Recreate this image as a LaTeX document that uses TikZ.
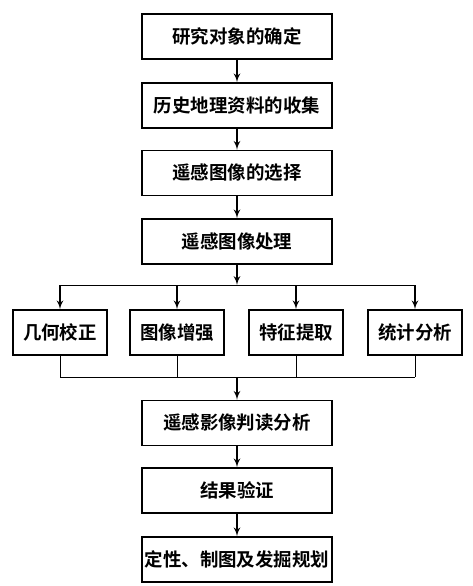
\documentclass[tikz,border=0pt]{standalone}
\usepackage{fontspec}
\newfontfamily\cjk{Noto Sans CJK SC Bold}
\usetikzlibrary{shapes.geometric, arrows, calc}

\begin{document}
\begin{tikzpicture}[x=0.02cm,y=-0.02cm,
    stagebox/.style={draw,line width=0.8pt,minimum width=3.8cm,minimum height=0.9cm,
      font=\cjk\fontsize{10.5}{12}\selectfont,inner sep=0pt},
    methodbox/.style={stagebox,minimum width=1.88cm},
    link/.style={line width=0.5pt},
    flow/.style={line width=0.75pt,-latex'}]
      \useasboundingbox (0,0) rectangle (473,586);
      % main chain of stages down the middle
      \node[stagebox] (object)  at (237,36.5)  {研究对象的确定};
      \node[stagebox] (history) at (237,105.5) {历史地理资料的收集};
      \node[stagebox] (choice)  at (237,173)   {遥感图像的选择};
      \node[stagebox] (process) at (237,241.5) {遥感图像处理};

      % the four processing methods
      \node[methodbox] (geo)   at (60,332.5)  {几何校正};
      \node[methodbox] (boost) at (177,332.5) {图像增强};
      \node[methodbox] (feat)  at (296,332.5) {特征提取};
      \node[methodbox] (stat)  at (415,332.5) {统计分析};

      \node[stagebox] (interp) at (237,423)   {遥感影像判读分析};
      \node[stagebox] (check)  at (237,490.5) {结果验证};
      \node[stagebox] (plan)   at (237,559.5) {定性、制图及发掘规划};

      \draw[flow] (object) -- (history);
      \draw[flow] (history) -- (choice);
      \draw[flow] (choice) -- (process);

      % split into the methods
      \coordinate (split) at (237,285);
      \draw[flow] (process) -- (split);
      \draw[link] (geo |- split) -- (stat |- split);
      \foreach \m in {geo,boost,feat,stat}
        \draw[flow] (\m |- split) -- (\m);

      % join them again
      \coordinate (join) at (237,377);
      \foreach \m in {geo,boost,feat,stat}
        \draw[link] (\m) -- (\m |- join);
      \draw[link] (geo |- join) -- (stat |- join);
      \draw[flow] (join) -- (interp);

      \draw[flow] (interp) -- (check);
      \draw[flow] (check) -- (plan);
    \end{tikzpicture}
\end{document}
